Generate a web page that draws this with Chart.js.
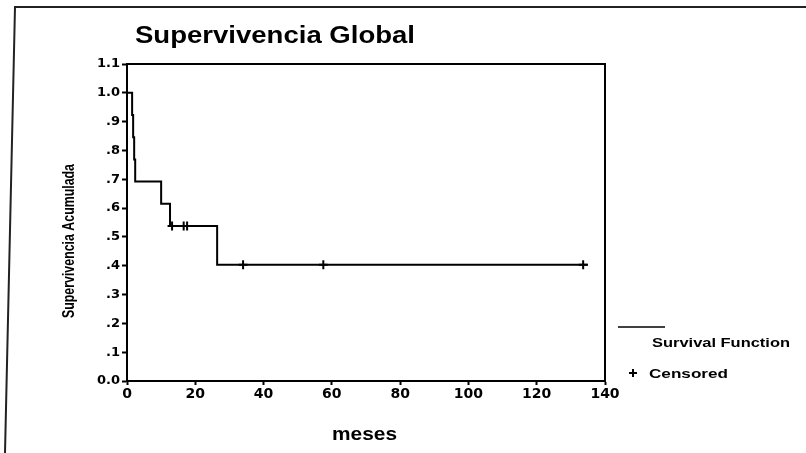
<!DOCTYPE html>
<html>
<head>
<meta charset="utf-8">
<script src="https://cdn.jsdelivr.net/npm/chart.js@4"></script>
<style>
html,body{margin:0;padding:0;background:#fff;}
#wrap{width:806px;height:453px;position:relative;}
</style>
</head>
<body>
<div id="wrap"><canvas id="c" width="806" height="453"></canvas></div>
<script>
// Kaplan-Meier survival function (event times in months, cumulative survival)
const eventTimes = [0, 1.5, 1.8, 2.1, 2.4, 10, 12.6, 26.4, 135];
const survival = [1.0, 0.923, 0.846, 0.769, 0.692, 0.615, 0.538, 0.403, 0.403];
// Censored observations
const censorTimes = [13.2, 16.6, 17.6, 34, 57.5, 133.6];
const censorSurvival = [0.538, 0.538, 0.538, 0.403, 0.403, 0.403];
// Axis ticks
const xTicks = [0, 20, 40, 60, 80, 100, 120, 140];
const yTickLabels = ['0.0', '.1', '.2', '.3', '.4', '.5', '.6', '.7', '.8', '.9', '1.0', '1.1'];

const titleText = 'Supervivencia Global';
const yTitle = 'Supervivencia Acumulada';
const xTitle = 'meses';
const legendLabels = ['Survival Function', 'Censored'];

function fitText(ctx, text, x, y, font, width) {
  ctx.save();
  ctx.font = font;
  const w = ctx.measureText(text).width;
  ctx.translate(x, y);
  ctx.scale(width / w, 1);
  ctx.textAlign = 'left';
  ctx.textBaseline = 'alphabetic';
  ctx.fillText(text, 0, 0);
  ctx.restore();
}

const decor = {
  id: 'decor',
  afterDraw(chart) {
    const ctx = chart.ctx;
    const a = chart.chartArea;
    ctx.save();
    ctx.fillStyle = '#000';
    ctx.strokeStyle = '#000';
    // plot box top and right
    ctx.lineWidth = 2;
    ctx.beginPath();
    ctx.moveTo(a.left, a.top);
    ctx.lineTo(a.right, a.top);
    ctx.lineTo(a.right, a.bottom);
    ctx.stroke();
    // page frame (scanned border)
    ctx.strokeStyle = '#222';
    ctx.lineWidth = 2;
    ctx.beginPath();
    ctx.moveTo(806, 7);
    ctx.lineTo(15, 7);
    ctx.lineTo(5, 453);
    ctx.stroke();
    // title
    fitText(ctx, titleText, 135, 43, 'bold 23px "Liberation Sans", Arial, sans-serif', 280);
    // x title
    fitText(ctx, xTitle, 332, 440, 'bold 19px "Liberation Sans", Arial, sans-serif', 65);
    // y title (rotated)
    ctx.save();
    ctx.translate(74, 318);
    ctx.rotate(-Math.PI / 2);
    fitText(ctx, yTitle, 0, 0, 'bold 16px "Liberation Sans Narrow", "Liberation Sans", Arial, sans-serif', 154);
    ctx.restore();
    // legend
    ctx.strokeStyle = '#000';
    ctx.lineWidth = 1.5;
    ctx.beginPath();
    ctx.moveTo(618, 327);
    ctx.lineTo(665, 327);
    ctx.stroke();
    fitText(ctx, legendLabels[0], 652, 347, 'bold 13px "Liberation Sans", Arial, sans-serif', 138);
    ctx.lineWidth = 2;
    ctx.beginPath();
    ctx.moveTo(629, 373); ctx.lineTo(637, 373);
    ctx.moveTo(633, 369); ctx.lineTo(633, 377);
    ctx.stroke();
    fitText(ctx, legendLabels[1], 649, 378, 'bold 13px "Liberation Sans", Arial, sans-serif', 79);
    ctx.restore();
  }
};

new Chart(document.getElementById('c'), {
  type: 'line',
  data: {
    datasets: [
      {
        label: legendLabels[0],
        data: eventTimes.map((t, i) => ({x: t, y: survival[i]})),
        borderColor: '#000',
        borderWidth: 2,
        stepped: true,
        pointRadius: 0,
        fill: false
      },
      {
        label: legendLabels[1],
        type: 'scatter',
        data: censorTimes.map((t, i) => ({x: t, y: censorSurvival[i]})),
        pointStyle: 'cross',
        pointRadius: 4.5,
        borderColor: '#000',
        borderWidth: 2,
        showLine: false
      }
    ]
  },
  options: {
    responsive: false,
    animation: false,
    events: [],
    layout: {padding: {top: 64, right: 201, bottom: 0, left: 0}},
    plugins: {legend: {display: false}, title: {display: false}, tooltip: {enabled: false}},
    scales: {
      x: {
        type: 'linear',
        min: 0, max: 140,
        afterBuildTicks: s => { s.ticks = xTicks.map(v => ({value: v})); },
        afterFit: s => { s.height = 72; },
        ticks: {
          color: '#000',
          font: {family: '"DejaVu Sans", sans-serif', weight: 'bold', size: 14},
          padding: 1,
          maxRotation: 0,
          callback: v => String(v)
        },
        grid: {drawOnChartArea: false, tickLength: 4, tickWidth: 2, color: '#000'},
        border: {color: '#000', width: 2}
      },
      y: {
        min: 0, max: 1.1,
        afterBuildTicks: s => { s.ticks = yTickLabels.map((l, i) => ({value: i / 10})); },
        afterFit: s => { s.width = 127; },
        ticks: {
          color: '#000',
          font: {family: '"DejaVu Sans", sans-serif', weight: 'bold', size: 13},
          padding: 2,
          callback: (v, i) => yTickLabels[i]
        },
        grid: {drawOnChartArea: false, tickLength: 5, tickWidth: 2, color: '#000'},
        border: {color: '#000', width: 2}
      }
    }
  },
  plugins: [decor]
});
</script>
</body>
</html>
